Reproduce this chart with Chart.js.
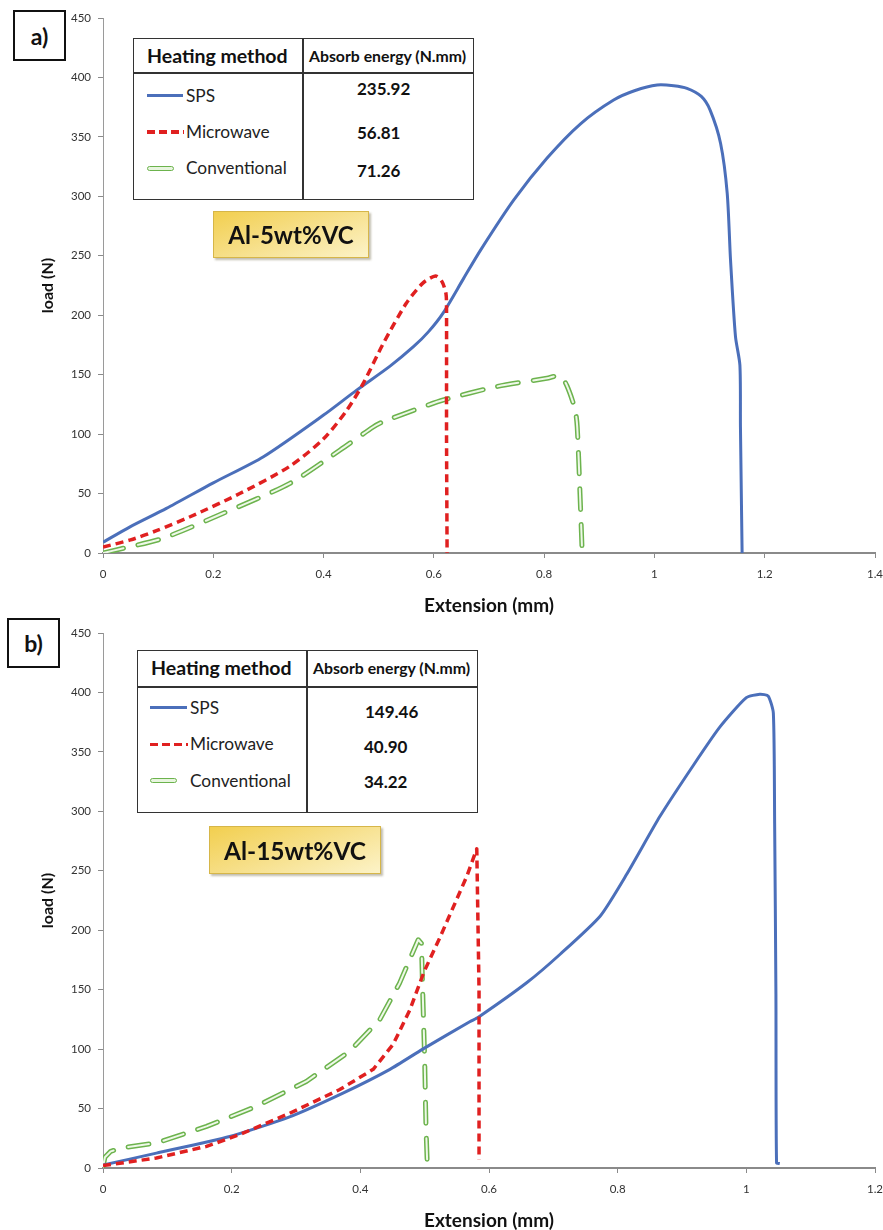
<!DOCTYPE html>
<html>
<head>
<meta charset="utf-8">
<script src="https://cdn.jsdelivr.net/npm/chart.js@4.4.1/dist/chart.umd.min.js"></script>
<style>
  html, body { margin:0; padding:0; background:#fff; }
  #wrap { position:relative; width:883px; height:1230px; overflow:hidden; font-family: Lato, "Open Sans", sans-serif; }
  canvas { position:absolute; left:0; }
  .abs { position:absolute; white-space:nowrap; line-height:1; }
  .vc { transform: translateY(-50%); }
  .panel { position:absolute; border:2px solid #111; background:#fff; box-sizing:border-box;
           display:flex; align-items:center; justify-content:center; font-weight:700; font-size:23px; color:#111; }
  .tbl { position:absolute; border:1.5px solid #333; box-sizing:border-box; background:#fff; }
  .vline { position:absolute; width:1.5px; background:#333; }
  .hline { position:absolute; height:1.5px; background:#333; }
  .hdr1 { font-weight:700; font-size:19.5px; color:#111; }
  .hdr2 { font-weight:700; font-size:15.8px; color:#111; }
  .lab { font-size:17.3px; color:#222; }
  .val { font-weight:700; font-size:17px; color:#111; }
  .s-blue { position:absolute; height:3px; background:#4b6fba; }
  .s-red { position:absolute; height:3.5px; background: repeating-linear-gradient(90deg, #e02020 0 8px, transparent 8px 12px); }
  .s-green { position:absolute; height:5px; box-sizing:border-box; border:1.2px solid #6cb34d; background:#e8f5df; border-radius:3px; }
  .alloy { position:absolute; box-sizing:border-box; border:1px solid #d6b649;
           background: linear-gradient(160deg, #f2cf4f 0%, #f6de85 45%, #fcf3c8 100%);
           box-shadow: 2px 2px 2px rgba(120,110,80,0.45);
           display:flex; align-items:center; justify-content:center; font-weight:700; color:#111; }
</style>
</head>
<body>
<div id="wrap">
  <canvas id="c1" width="883" height="615" style="top:0"></canvas>
  <canvas id="c2" width="883" height="615" style="top:615px"></canvas>

  <!-- panel a -->
  <div class="panel" style="left:13px; top:10px; width:53px; height:51px;">a)</div>
  <div class="tbl" style="left:133px; top:38px; width:341px; height:162px;"></div>
  <div class="vline" style="left:302px; top:38px; height:162px;"></div>
  <div class="hline" style="left:133px; top:72px; width:341px;"></div>
  <div class="abs vc hdr1" style="left:147px; top:56px;">Heating method</div>
  <div class="abs vc hdr2" style="left:309px; top:56px;">Absorb energy (N.mm)</div>
  <div class="s-blue" style="left:147px; top:94px; width:36px;"></div>
  <div class="abs vc lab" style="left:186px; top:96px;">SPS</div>
  <div class="s-red" style="left:147px; top:130px; width:37px;"></div>
  <div class="abs vc lab" style="left:186px; top:132px;">Microwave</div>
  <div class="s-green" style="left:147px; top:165.5px; width:27px;"></div>
  <div class="abs vc lab" style="left:186px; top:168px;">Conventional</div>
  <div class="abs vc val" style="left:357px; top:88px;">235.92</div>
  <div class="abs vc val" style="left:357px; top:132px;">56.81</div>
  <div class="abs vc val" style="left:357px; top:170px;">71.26</div>
  <div class="alloy" style="left:213px; top:211px; width:156px; height:47px; font-size:24px;">Al-5wt%VC</div>

  <!-- panel b -->
  <div class="panel" style="left:7px; top:618px; width:53px; height:50px;">b)</div>
  <div class="tbl" style="left:137px; top:650px; width:341px; height:163px;"></div>
  <div class="vline" style="left:306px; top:650px; height:163px;"></div>
  <div class="hline" style="left:137px; top:686px; width:341px;"></div>
  <div class="abs vc hdr1" style="left:151px; top:668px;">Heating method</div>
  <div class="abs vc hdr2" style="left:313px; top:668px;">Absorb energy (N.mm)</div>
  <div class="s-blue" style="left:150px; top:706px; width:37px;"></div>
  <div class="abs vc lab" style="left:190px; top:708px;">SPS</div>
  <div class="s-red" style="left:150px; top:742.5px; width:38px;"></div>
  <div class="abs vc lab" style="left:190px; top:744px;">Microwave</div>
  <div class="s-green" style="left:150px; top:778px; width:27px;"></div>
  <div class="abs vc lab" style="left:190px; top:781px;">Conventional</div>
  <div class="abs vc val" style="left:365px; top:711px;">149.46</div>
  <div class="abs vc val" style="left:364px; top:746px;">40.90</div>
  <div class="abs vc val" style="left:364px; top:781px;">34.22</div>
  <div class="alloy" style="left:209px; top:826px; width:172px; height:48px; font-size:24.5px;">Al-15wt%VC</div>
</div>

<script>
// ---------------- DATA ----------------
// Panel a) Al-5wt%VC
const a_sps_ext  = [0, 0.049, 0.115, 0.2, 0.291, 0.4, 0.46, 0.52, 0.563, 0.59, 0.617, 0.654, 0.685, 0.745, 0.805, 0.866, 0.926, 0.965, 1.005, 1.035, 1.059, 1.085, 1.101, 1.12, 1.132, 1.138, 1.147, 1.155, 1.156, 1.159];
const a_sps_load = [9, 22, 37.5, 59, 81, 116, 137, 157, 173.5, 186, 202, 231, 255, 297, 332, 361, 381, 389, 393.6, 393, 390.8, 384, 372.5, 344.5, 302.5, 246.5, 182, 158, 106, 0];

const a_mw_ext  = [0, 0.05, 0.097, 0.158, 0.248, 0.339, 0.4, 0.442, 0.472, 0.508, 0.55, 0.58, 0.603, 0.615, 0.622, 0.623, 0.623, 0.624];
const a_mw_load = [5, 11, 18.8, 30.5, 50, 73, 96, 120, 142.7, 176, 210, 227, 233, 228, 218, 204, 100, 0];

const a_conv_ext  = [0, 0.037, 0.109, 0.218, 0.339, 0.43, 0.49, 0.508, 0.581, 0.617, 0.714, 0.805, 0.829, 0.841, 0.856, 0.86, 0.865, 0.869];
const a_conv_load = [0, 4, 12.4, 33.4, 58.6, 86.6, 106, 110.4, 123, 128.7, 140, 147, 149, 141, 121, 106, 50, 0];

// Panel b) Al-15wt%VC
const b_sps_ext  = [0, 0.083, 0.197, 0.29, 0.373, 0.446, 0.497, 0.57, 0.584, 0.659, 0.711, 0.773, 0.814, 0.866, 0.918, 0.959, 1.0, 1.021, 1.034, 1.042, 1.044, 1.046, 1.047, 1.052];
const b_sps_load = [2.5, 12.5, 26.5, 43, 63, 83, 100, 123, 127, 156, 180, 212, 247, 296, 339, 371, 395.6, 398.5, 397, 382.6, 290, 146, 4.3, 3.8];

const b_mw_ext  = [0, 0.083, 0.161, 0.212, 0.29, 0.368, 0.42, 0.451, 0.477, 0.499, 0.523, 0.549, 0.566, 0.581, 0.5845, 0.5845];
const b_mw_load = [2, 8.4, 18.2, 28, 46, 66, 83, 104, 133, 165, 193, 225, 246, 268.5, 150, 7];

const b_conv_ext  = [0, 0.003, 0.012, 0.03, 0.083, 0.161, 0.238, 0.316, 0.383, 0.43, 0.461, 0.49, 0.495, 0.497, 0.5, 0.502, 0.504, 0.513];
const b_conv_load = [1, 9, 14, 17, 21, 35, 51.8, 72.8, 98, 124.6, 155.5, 192, 189, 147, 91, 35, 4, 3];

const a_xTicksMax = 1.4;
const b_xTicksMax = 1.2;
const yTicksMax = 450;

// ---------------- RENDER ----------------
const FONT = 'Lato, "Open Sans", sans-serif';
const pts = (xs, ys) => xs.map((x, i) => ({x: x, y: ys[i]}));

function datasets(spsX, spsY, mwX, mwY, cvX, cvY, tensions) {
  return [
    { label:'Microwave', data: pts(mwX, mwY), borderColor:'#e02020', borderWidth:3.5,
      borderDash:[8,5], borderCapStyle:'butt', tension:tensions[1], order:0 },
    { label:'SPS', data: pts(spsX, spsY), borderColor:'#4b6fba', borderWidth:3,
      tension:tensions[0], order:1 },
    { label:'Conventional', data: pts(cvX, cvY), borderColor:'#eef8e8', borderWidth:2,
      borderDash:[21,15], borderCapStyle:'round', tension:tensions[2], order:2 },
    { label:'Conventional-outline', data: pts(cvX, cvY), borderColor:'#6cb34d', borderWidth:5,
      borderDash:[21,15], borderCapStyle:'round', tension:tensions[2], order:3 }
  ].map(d => Object.assign({ showLine:true, pointRadius:0, fill:false, borderJoinStyle:'round' }, d));
}

function makeChart(id, ds, xMax) {
  return new Chart(document.getElementById(id), {
    type: 'scatter',
    data: { datasets: ds },
    options: {
      responsive:false, animation:false, devicePixelRatio:1,
      layout: { padding: { left:0, right:8, top:18, bottom:0 }, autoPadding:false },
      plugins: { legend:{display:false}, tooltip:{enabled:false} },
      scales: {
        x: {
          type:'linear', min:0, max:xMax,
          ticks: { stepSize:0.2, color:'#333', font:{family:FONT, size:11.5}, padding:9,
                   callback: v => String(+v.toFixed(1)) },
          grid: { drawOnChartArea:false, drawTicks:true, tickLength:5, color:'#8a8a8a', lineWidth:1 },
          border: { color:'#8a8a8a', width:2 },
          title: { display:true, text:'Extension (mm)', color:'#111',
                   font:{family:FONT, size:19, weight:'bold'}, padding:{top:0, bottom:-2} },
          afterFit: s => { s.height = 62; s.paddingLeft = 0; s.paddingRight = 0; }
        },
        y: {
          type:'linear', min:0, max:yTicksMax,
          ticks: { stepSize:50, color:'#333', font:{family:FONT, size:11.5}, padding:7 },
          grid: { drawOnChartArea:false, drawTicks:true, tickLength:5, color:'#8a8a8a', lineWidth:1 },
          border: { color:'#9a9a9a', width:1 },
          title: { display:true, text:'load (N)', color:'#111',
                   font:{family:FONT, size:16, weight:'bold'}, padding:{top:38, bottom:0} },
          afterFit: s => { s.width = 103; s.paddingTop = 0; s.paddingBottom = 0; }
        }
      }
    }
  });
}

makeChart('c1', datasets(a_sps_ext, a_sps_load, a_mw_ext, a_mw_load, a_conv_ext, a_conv_load, [0.25, 0.25, 0.25]), a_xTicksMax);
makeChart('c2', datasets(b_sps_ext, b_sps_load, b_mw_ext, b_mw_load, b_conv_ext, b_conv_load, [0.2, 0, 0]), b_xTicksMax);
</script>
</body>
</html>
